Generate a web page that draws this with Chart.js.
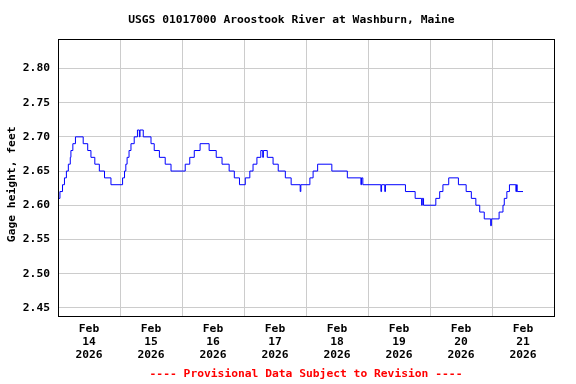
<!DOCTYPE html>
<html>
<head>
<meta charset="utf-8">
<title>USGS 01017000 Aroostook River at Washburn, Maine</title>
<script src="https://cdn.jsdelivr.net/npm/chart.js@4/dist/chart.umd.min.js"></script>
<style>
    html, body { margin: 0; padding: 0; background: #ffffff; }
    canvas { display: block; }
</style>
</head>
<body>
<canvas id="gage-chart" width="576" height="384"></canvas>
<script>
// Gage height, feet. Hours after Feb 14 2026 00:00 at which the reading changes.
const stepHours = [
    0, 0.75, 1.75, 2.5, 3.25, 4, 4.75, 5, 5.75, 6.75,
    9.75, 11.5, 12.75, 14.25, 16, 18, 20.5,
    25, 25.75, 26.25, 26.75, 27.5, 28.25, 29.5, 30.75, 31.5, 31.75,
    33, 36, 37.25, 39.25, 41.5, 43.75,
    49.25, 51, 52.75, 55, 58.5, 61.25, 63.5, 66.25, 68.25, 70.25,
    72.5, 74.25, 75.5, 77, 78.5, 79.25, 79.5,
    81, 83.25, 85.25, 88, 90.25, 93.75, 94,
    97.5, 98.75, 100.5, 106, 112, 117.25, 117.5, 118,
    125, 125.25, 126.5, 126.75, 134.5, 138.25, 140.75, 141, 141.5,
    146.25, 147.75, 149, 151.25, 155, 158, 160, 161.75, 163.25, 165,
    167.5, 167.75, 170.75, 172.25, 172.75, 173.75, 174.75,
    177.25, 177.5, 177.75, 180
];
const stepValues = [
    2.61, 2.62, 2.63, 2.64, 2.65, 2.66, 2.67, 2.68, 2.69, 2.70,
    2.69, 2.68, 2.67, 2.66, 2.65, 2.64, 2.63,
    2.64, 2.65, 2.66, 2.67, 2.68, 2.69, 2.70, 2.71, 2.70, 2.71,
    2.70, 2.69, 2.68, 2.67, 2.66, 2.65,
    2.66, 2.67, 2.68, 2.69, 2.68, 2.67, 2.66, 2.65, 2.64, 2.63,
    2.64, 2.65, 2.66, 2.67, 2.68, 2.67, 2.68,
    2.67, 2.66, 2.65, 2.64, 2.63, 2.62, 2.63,
    2.64, 2.65, 2.66, 2.65, 2.64, 2.63, 2.64, 2.63,
    2.62, 2.63, 2.62, 2.63, 2.62, 2.61, 2.60, 2.61, 2.60,
    2.61, 2.62, 2.63, 2.64, 2.63, 2.62, 2.61, 2.60, 2.59, 2.58,
    2.57, 2.58, 2.59, 2.60, 2.61, 2.62, 2.63,
    2.62, 2.63, 2.62, 2.62
];

// Axis labels
const monthLabel = "Feb";
const yearLabel = "2026";
const dayLabels = ["14", "15", "16", "17", "18", "19", "20", "21"];
const xTickHours = [0, 12, 24, 36, 48, 60, 72, 84, 96, 108, 120, 132, 144, 156, 168, 180, 192];
const yTicks = [2.45, 2.50, 2.55, 2.60, 2.65, 2.70, 2.75, 2.80];

// leading / trailing blanks nudge the centred titles the way the original sits
const chartTitle = " USGS 01017000 Aroostook River at Washburn, Maine";
const yTitle = "Gage height, feet  ";
const footerText = "---- Provisional Data Subject to Revision ----";

const FONT = "'DejaVu Sans Mono', 'Liberation Mono', monospace";
const GRID = "#cccccc";

// Full black frame round the plot area
const frame = {
    id: "frame",
    afterDraw(chart) {
        const { ctx, chartArea } = chart;
        const l = Math.round(chartArea.left);
        const t = Math.round(chartArea.top);
        const r = Math.round(chartArea.right);
        const b = Math.round(chartArea.bottom);
        ctx.save();
        ctx.strokeStyle = "#000000";
        ctx.lineWidth = 1;
        ctx.strokeRect(l + 0.5, t + 0.5, r - l, b - t);
        ctx.restore();
    }
};

const points = stepHours.map((h, i) => ({ x: h, y: stepValues[i] }));

new Chart(document.getElementById("gage-chart"), {
    type: "line",
    data: {
        datasets: [{
            label: "Gage height",
            data: points,
            borderColor: "#0000ff",
            borderWidth: 1,
            pointRadius: 0,
            stepped: "before",
            fill: false
        }]
    },
    options: {
        responsive: false,
        animation: false,
        layout: { padding: 0 },
        plugins: {
            legend: { display: false },
            tooltip: { enabled: false },
            title: {
                display: true,
                text: chartTitle,
                color: "#000000",
                font: { family: FONT, size: 11.3, weight: "bold" },
                padding: { top: 13, bottom: 12.5 }
            }
        },
        scales: {
            x: {
                type: "linear",
                min: 0,
                max: 192,
                afterBuildTicks: (scale) => {
                    scale.ticks = xTickHours.map((v) => ({ value: v }));
                },
                afterFit: (scale) => { scale.height = 68; },
                grid: {
                    drawTicks: false,
                    color: (ctx) => (ctx.tick && ctx.tick.value % 24 === 0 ? GRID : "rgba(0,0,0,0)")
                },
                border: { display: false },
                ticks: {
                    autoSkip: false,
                    maxRotation: 0,
                    padding: 7,
                    color: "#000000",
                    font: { family: FONT, size: 11.3, weight: "bold", lineHeight: 1.15 },
                    callback: (value) => {
                        if (value % 24 !== 12) return "";
                        return [monthLabel, dayLabels[(value - 12) / 24], yearLabel];
                    }
                },
                title: {
                    display: true,
                    text: footerText,
                    color: "#ff0000",
                    font: { family: FONT, size: 11.3, weight: "bold" },
                    padding: { top: 0, bottom: 3 }
                }
            },
            y: {
                min: 2.438,
                max: 2.843,
                afterBuildTicks: (scale) => {
                    scale.ticks = yTicks.map((v) => ({ value: v }));
                },
                afterFit: (scale) => { scale.width = 58; },
                grid: { drawTicks: false, color: GRID },
                border: { display: false },
                ticks: {
                    padding: 8,
                    color: "#000000",
                    font: { family: FONT, size: 11.3, weight: "bold" },
                    callback: (value) => value.toFixed(2)
                },
                title: {
                    display: true,
                    text: yTitle,
                    color: "#000000",
                    font: { family: FONT, size: 11.3, weight: "bold" },
                    padding: { top: 5, bottom: 0 }
                }
            },
            // empty right-hand margin
            yRight: {
                position: "right",
                display: true,
                afterFit: (scale) => { scale.width = 22; },
                grid: { display: false },
                border: { display: false },
                ticks: { display: false }
            }
        }
    },
    plugins: [frame]
});
</script>
</body>
</html>
